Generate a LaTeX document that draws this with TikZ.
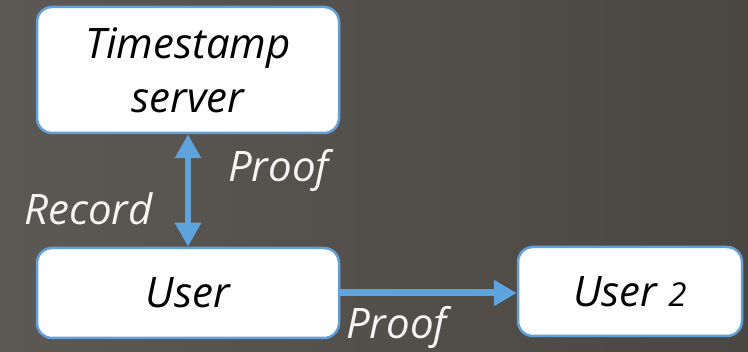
\documentclass[tikz,border=0pt]{standalone}
\usepackage{fontspec}
\setmainfont{Open Sans}
\usetikzlibrary{arrows.meta}
\definecolor{bgL}{RGB}{92,88,83}
\definecolor{bgR}{RGB}{74,71,67}
\definecolor{boxblue}{RGB}{98,160,218}
\definecolor{arrblue}{RGB}{93,164,222}
\definecolor{lbl}{RGB}{245,245,245}
\tikzset{
  box/.style={draw=boxblue, line width=2.5pt, fill=white, rounded corners=15pt,
    text=black, font=\fontsize{42}{54}\selectfont\itshape, align=center, inner sep=0pt},
  lab/.style={text=lbl, font=\fontsize{42}{54}\selectfont\itshape, inner sep=0pt},
  conn/.style={draw=arrblue, line width=6pt},
}
\begin{document}
\begin{tikzpicture}[x=1pt,y=-1pt]
\shade[left color=bgL, right color=bgR] (0,0) rectangle (748,352);
\useasboundingbox (0,0) rectangle (748,352);
\node[box, minimum width=302pt, minimum height=126pt] (ts) at (188,70) {Timestamp\\server};
\node[box, minimum width=302pt, minimum height=90pt] (user) at (188,293) {User};
\node[box, minimum width=224pt, minimum height=89pt] (user2) at (630,291.5) {User {\fontsize{33}{40}\selectfont 2}};
\draw[conn, {Triangle[width=25pt,length=24pt]}-{Triangle[width=25pt,length=24pt]}] (ts.south) -- (user.north);
\draw[conn, line width=7pt, -{Triangle[width=25pt,length=23pt]}] (user.east) -- (user.east -| user2.west);
\node[lab, anchor=base west] (p1) at (228,182) {Proof};
\node[lab, anchor=base west] (rec) at (24,225) {Record};
\node[lab, anchor=base west] (p2) at (346,339) {Proof};
\end{tikzpicture}
\end{document}
